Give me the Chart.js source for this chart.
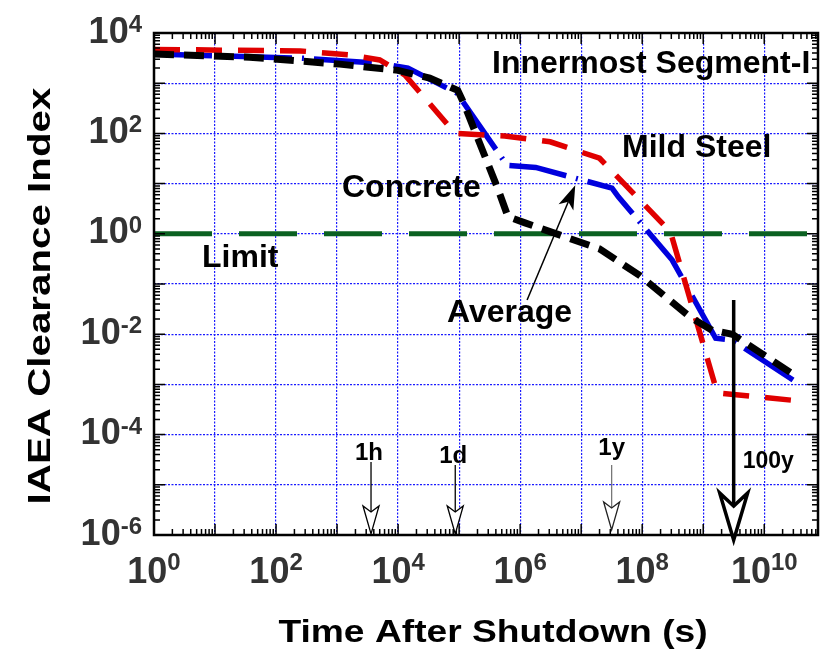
<!DOCTYPE html>
<html>
<head>
<meta charset="utf-8">
<script src="https://cdn.jsdelivr.net/npm/chart.js@4.4.0/dist/chart.umd.min.js"></script>
<style>
  body { margin: 0; background: #fff; }
  canvas { display: block; }
</style>
</head>
<body>
<canvas id="grafico" width="820" height="658"></canvas>
<script>
// Tiempo tras la parada (s) e índice de desclasificación de cada material
const tiempoAcero = [1, 250, 1600, 5000, 1.3e4, 8.6e4, 5.6e5, 3.1e6, 2e7, 2.9e8, 1.7e9, 3.6e10];
const indiceAcero = [4700, 4400, 3650, 2900, 1450, 100, 89, 68, 32, 1.1, 6.8e-4, 4.7e-4];

const tiempoConcreto = [1, 247, 5000, 1.45e4, 9.3e4, 1.2e5, 6.1e5, 1.8e6, 3.2e7, 4.1e7, 3.1e8, 1.6e9, 3e9, 3.5e10];
const indiceConcreto = [3800, 3160, 2500, 2000, 630, 400, 23, 21, 8.1, 5.4, 0.30, 8.3e-3, 7.6e-3, 1.07e-3];

const tiempoPromedio = [1, 37, 1.1e3, 1e4, 3.3e4, 9.5e4, 1.2e5, 4.4e5, 6.3e5, 1.2e6, 2e7, 9.3e7, 6.1e8, 1.4e9, 3e9, 3.5e10];
const indicePromedio = [3800, 3300, 2400, 1800, 1260, 720, 390, 7.4, 2.2, 1.65, 0.50, 0.145, 0.022, 0.012, 0.010, 1.4e-3];

const tiempoLimite = [1, 7.6e10];
const indiceLimite = [1, 1];

// ejes
const xMin = 1, xMax = 7.6e10;
const yMin = 1e-6, yMax = 1e4;
const decadasX = [1e0, 1e1, 1e2, 1e3, 1e4, 1e5, 1e6, 1e7, 1e8, 1e9, 1e10];
const decadasY = [1e-6, 1e-5, 1e-4, 1e-3, 1e-2, 1e-1, 1e0, 1e1, 1e2, 1e3, 1e4];
const exponentesX = ['0', '2', '4', '6', '8', '10'];
const exponentesY = ['-6', '-4', '-2', '0', '2', '4'];

// marcas de tiempo: 1 hora, 1 día, 1 año, 100 años
const marcasTiempo = [3600, 86400, 3.156e7, 3.156e9];
const marcasTexto = ['1h', '1d', '1y', '100y'];

const pares = (xs, ys) => xs.map((x, i) => ({ x: x, y: ys[i] }));

const FUENTE = '"Liberation Sans", Arial, Helvetica, sans-serif';

function texto(ctx, str, x, y, size, opts) {
  opts = opts || {};
  ctx.save();
  ctx.font = 'bold ' + size + 'px ' + FUENTE;
  ctx.fillStyle = opts.color || '#000';
  ctx.textBaseline = 'alphabetic';
  ctx.textAlign = opts.align || 'left';
  ctx.translate(x, y);
  if (opts.rot) ctx.rotate(opts.rot);
  ctx.scale(opts.sx || 1, 1);
  ctx.fillText(str, 0, 0);
  ctx.restore();
}

// "10" con exponente; alinear: 'center' o 'right'
function potencia(ctx, exp, x, y, alinear, subida) {
  ctx.save();
  ctx.font = 'bold 36px ' + FUENTE;
  const wBase = ctx.measureText('10').width;
  ctx.font = 'bold 24px ' + FUENTE;
  const wExp = ctx.measureText(exp).width;
  const total = wBase + wExp;
  const x0 = alinear === 'center' ? x - total / 2 : x - total;
  ctx.fillStyle = '#333';
  ctx.textAlign = 'left';
  ctx.textBaseline = 'alphabetic';
  ctx.font = 'bold 36px ' + FUENTE;
  ctx.fillText('10', x0, y);
  ctx.font = 'bold 24px ' + FUENTE;
  ctx.fillText(exp, x0 + wBase, y - subida);
  ctx.restore();
}

// flecha hueca vertical con muesca
function flechaHueca(ctx, x, yCola, yPunta, medio, largo, muesca, grosor, color, colorPunta) {
  ctx.save();
  ctx.strokeStyle = color;
  ctx.lineWidth = grosor;
  ctx.beginPath();
  ctx.moveTo(x, yCola);
  ctx.lineTo(x, yPunta - largo + muesca);
  ctx.stroke();
  ctx.beginPath();
  ctx.moveTo(x - medio, yPunta - largo);
  ctx.lineTo(x, yPunta);
  ctx.lineTo(x + medio, yPunta - largo);
  ctx.lineTo(x, yPunta - largo + muesca);
  ctx.closePath();
  ctx.fillStyle = '#fff';
  ctx.fill();
  ctx.strokeStyle = colorPunta || color;
  ctx.lineJoin = 'miter';
  ctx.stroke();
  ctx.restore();
}

const decorado = {
  id: 'decorado',
  afterDraw(chart) {
    const ctx = chart.ctx;
    const a = chart.chartArea;
    const sx = chart.scales.x, sy = chart.scales.y;

    // marco
    ctx.save();
    ctx.strokeStyle = '#000';
    ctx.lineWidth = 2.5;
    ctx.strokeRect(a.left, a.top, a.right - a.left, a.bottom - a.top);

    // marcas mayores y menores hacia dentro
    ctx.lineWidth = 1.5;
    ctx.beginPath();
    decadasX.forEach(d => {
      for (let k = 1; k <= 9; k++) {
        const v = d * k;
        if (v > xMax) break;
        const px = sx.getPixelForValue(v);
        const L = k === 1 ? 11 : 6;
        ctx.moveTo(px, a.bottom); ctx.lineTo(px, a.bottom - L);
        ctx.moveTo(px, a.top); ctx.lineTo(px, a.top + L);
      }
    });
    decadasY.forEach(d => {
      for (let k = 1; k <= 9; k++) {
        const v = d * k;
        if (v > yMax) break;
        const py = sy.getPixelForValue(v);
        const L = k === 1 ? 11 : 6;
        ctx.moveTo(a.left, py); ctx.lineTo(a.left + L, py);
        ctx.moveTo(a.right, py); ctx.lineTo(a.right - L, py);
      }
    });
    ctx.stroke();
    ctx.restore();

    // etiquetas de los ejes
    exponentesX.forEach(e => {
      const px = sx.getPixelForValue(Math.pow(10, +e));
      potencia(ctx, e, px, a.bottom + 48, 'center', 13);
    });
    exponentesY.forEach(e => {
      const py = sy.getPixelForValue(Math.pow(10, +e));
      potencia(ctx, e, a.left - 12, py + 9.5, 'right', 10.5);
    });

    texto(ctx, 'Time After Shutdown (s)', 493, 642, 31, { align: 'center', sx: 1.2 });
    texto(ctx, 'IAEA Clearance Index', 50, 296, 32, { align: 'center', rot: -Math.PI / 2, sx: 1.26 });

    // rótulos de las curvas
    texto(ctx, 'Innermost Segment-I', 492, 73, 32);
    texto(ctx, 'Mild Steel', 622, 157, 32);
    texto(ctx, 'Concrete', 342, 197, 32);
    texto(ctx, 'Limit', 202, 267, 32);
    texto(ctx, 'Average', 447, 322, 32);

    // flecha de "Average"
    const x1 = sx.getPixelForValue(1.3e6), y1 = sy.getPixelForValue(0.048);
    const x2 = sx.getPixelForValue(8e6), y2 = sy.getPixelForValue(9.3);
    const ang = Math.atan2(y2 - y1, x2 - x1);
    ctx.save();
    ctx.strokeStyle = '#000';
    ctx.fillStyle = '#000';
    ctx.lineWidth = 1.5;
    ctx.beginPath();
    ctx.moveTo(x1, y1);
    ctx.lineTo(x2 - 18 * Math.cos(ang), y2 - 18 * Math.sin(ang));
    ctx.stroke();
    ctx.translate(x2, y2);
    ctx.rotate(ang);
    ctx.beginPath();
    ctx.moveTo(0, 0);
    ctx.lineTo(-24, -8);
    ctx.lineTo(-18, 0);
    ctx.lineTo(-24, 8);
    ctx.closePath();
    ctx.fill();
    ctx.restore();

    // flechas de tiempo
    const xs = marcasTiempo.map(t => sx.getPixelForValue(t));
    flechaHueca(ctx, xs[0], a.bottom - 73, a.bottom - 1, 8, 28, 6, 1.3, '#000');
    flechaHueca(ctx, xs[1], a.bottom - 70, a.bottom - 1, 8, 28, 6, 1.3, '#000');
    flechaHueca(ctx, xs[2], a.bottom - 70, a.bottom - 5, 8, 28, 6, 1.3, '#777', '#222');
    flechaHueca(ctx, xs[3], a.bottom - 235, a.bottom + 5, 14, 47, 13, 3.5, '#000');

    texto(ctx, marcasTexto[0], xs[0] - 2, a.bottom - 75, 24, { align: 'center' });
    texto(ctx, marcasTexto[1], xs[1] - 2, a.bottom - 72, 24, { align: 'center' });
    texto(ctx, marcasTexto[2], xs[2], a.bottom - 80, 24, { align: 'center' });
    texto(ctx, marcasTexto[3], xs[3] + 9, a.bottom - 67, 23);
  }
};

const ctx = document.getElementById('grafico').getContext('2d');
new Chart(ctx, {
  type: 'line',
  data: {
    datasets: [
      {
        label: 'Average',
        data: pares(tiempoPromedio, indicePromedio),
        borderColor: '#000',
        borderWidth: 7,
        borderDash: [20, 10]
      },
      {
        label: 'Mild Steel',
        data: pares(tiempoAcero, indiceAcero),
        borderColor: '#e00000',
        borderWidth: 5.5,
        borderDash: [26, 16]
      },
      {
        label: 'Concrete',
        data: pares(tiempoConcreto, indiceConcreto),
        borderColor: '#0000dd',
        borderWidth: 5.5,
        borderDash: [58, 10, 2, 10]
      },
      {
        label: 'Limit',
        data: pares(tiempoLimite, indiceLimite),
        borderColor: '#0b6121',
        borderWidth: 5,
        borderDash: [58, 27]
      }
    ]
  },
  options: {
    responsive: false,
    animation: false,
    elements: {
      point: { radius: 0 },
      line: { tension: 0, borderCapStyle: 'butt', borderJoinStyle: 'miter' }
    },
    layout: { padding: { top: 33, right: 2, left: 0, bottom: 0 } },
    plugins: {
      legend: { display: false },
      tooltip: { enabled: false }
    },
    scales: {
      x: {
        type: 'logarithmic',
        min: xMin,
        max: xMax,
        afterBuildTicks: s => { s.ticks = decadasX.map(v => ({ value: v })); },
        afterFit: s => { s.height = 123; },
        ticks: { display: false },
        grid: { color: '#1a1aff', lineWidth: 1.2, drawTicks: false },
        border: { display: false, dash: [2, 1.5] }
      },
      y: {
        type: 'logarithmic',
        min: yMin,
        max: yMax,
        afterBuildTicks: s => { s.ticks = decadasY.map(v => ({ value: v })); },
        afterFit: s => { s.width = 154; },
        ticks: { display: false },
        grid: { color: '#1a1aff', lineWidth: 1.2, drawTicks: false },
        border: { display: false, dash: [2, 1.5] }
      }
    }
  },
  plugins: [decorado]
});
</script>
</body>
</html>
